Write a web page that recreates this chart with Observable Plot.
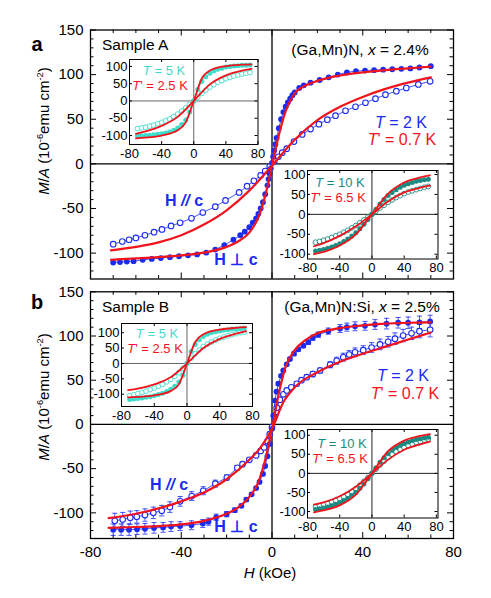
<!DOCTYPE html>
<html><head><meta charset="utf-8">
<script src="https://cdn.jsdelivr.net/npm/d3@7"></script>
<script src="https://cdn.jsdelivr.net/npm/@observablehq/plot@0.6"></script>
<style>
body{margin:0;background:#fff;font-family:"Liberation Sans",Arial,Helvetica,sans-serif;}
#root{position:relative;width:491px;height:598px;overflow:hidden;background:#fff;}
.lbl{position:absolute;white-space:nowrap;line-height:1;}
.lbl sup{font-size:0.62em;vertical-align:0.55em;line-height:0;}
</style></head><body><div id="root"></div>
<script>
// ---------- tick values ----------
const mainXMajor = [-80,-40,0,40,80];
const mainXMinor = [-70,-60,-50,-30,-20,-10,10,20,30,50,60,70];
const mainYMajor = [-100,-50,0,50,100,150];
const mainYMinor = [-120,-110,-90,-80,-70,-60,-40,-30,-20,-10,10,20,30,40,60,70,80,90,110,120,130,140];
const insXTicks = [-80,-40,0,40,80];
const insYTicks = [-100,-50,0,50,100];

// ---------- panel a main data [H (kOe), M/A] ----------
const aPerp = [[-70,-110.5],[-67,-110],[-64,-109.5],[-61,-109],[-57,-107.5],[-53,-106.5],[-49,-105.5],[-45,-104.5],[-41,-103.5],[-37,-102.5],[-33,-101.5],[-29,-99.5],[-25,-96],[-21,-91],[-17,-85],[-14,-80],[-12,-76],[-10,-71],[-8.5,-66],[-7,-61],[-6,-56],[-5,-50],[-4,-43],[-3,-34],[-2,-24],[-1.5,-17],[-1,-11],[-0.5,-5],[0,1],[0.5,8],[1,15],[1.5,22],[2,29],[3,40],[4,50],[5,58],[6,64],[7,69],[8,73],[9,77],[10,80],[12,85],[14,88],[17,91],[21,94],[25,97],[29,100],[33,102.5],[37,104],[41,104.5],[45,105],[49,105.5],[53,106],[57,106.5],[61,107],[65,108],[70,109.5]];
const aPar = [[-70,-90],[-66,-87],[-63,-85],[-60,-83],[-56,-80],[-52,-76.5],[-48.5,-73.5],[-44.5,-69.5],[-40.5,-66],[-35.5,-61],[-30.5,-54.5],[-25,-48],[-20.5,-41],[-14.5,-32],[-11,-25],[-8,-19],[-5,-13],[-3,-8],[-1,-3],[1,3],[2.8,8],[4.5,12.5],[6.5,17],[9.7,25],[13.3,33],[17,39],[20.7,44.5],[24.4,49.5],[28,54],[32.4,59.5],[36.8,64],[41.2,68.5],[45.6,73],[50,77.5],[54.8,81.5],[59.2,85],[64.5,89],[69.7,92.5]];
const aFitPerp = [[-71,-107.5],[-60,-106],[-50,-104.5],[-40,-102.5],[-30,-99.5],[-20,-93],[-15,-87],[-10,-77],[-6,-60],[-3,-36],[0,-2],[3,32],[6,59],[10,79],[15,88],[20,93],[30,99],[40,102.5],[50,105],[60,107],[70,109]];
const aFitPar = [[-71,-97],[-60,-93],[-50,-88],[-40,-80],[-30,-68],[-20,-52],[-10,-30],[0,-2],[10,27],[20,49],[30,64],[40,75],[50,84],[60,91],[70,97]];

// ---------- panel b main data [H, M/A, error] ----------
const bPerp = [[-70,-119,6.5],[-66.5,-119,6.5],[-63,-119,6.5],[-59.5,-118.5,6],[-56,-118,6],[-52,-117,6],[-48,-116.5,5.5],[-44.5,-115.5,5.5],[-40.5,-115,5],[-35.5,-114,5],[-30.5,-112,4.5],[-28,-110,4],[-24.6,-105,3.5],[-20,-101.5,3],[-16.4,-97,2.5],[-13.5,-92,2],[-11.3,-85,2],[-9,-79,1.5],[-7,-72,1.5],[-5.5,-65,1],[-4,-56,1],[-3,-47,1],[-2,-36,1],[-1,-22,1],[0,-5,1],[0.6,10,1],[1.3,27,1],[2,37,1],[2.8,46,1],[4,55,1],[5,61,1],[6.5,68,1.5],[7.9,74,1.5],[9.7,80,2],[11.6,85,2],[13.8,89,2],[16,93,2.5],[18,98,3],[20.4,101.5,3],[24.8,105.5,3.5],[30,108.5,4.5],[33,110,4.5],[36.6,111,5],[41,111.5,5],[45.4,113,5.5],[50.5,114,6],[55.6,115,6],[60,115,6.5],[65,115.5,7],[69.7,116.5,7]];
const bPar = [[-69.3,-109,8.5],[-65.8,-107.5,8],[-62.5,-105.5,7.5],[-59.6,-104.5,7],[-56,-102.5,7],[-52.3,-100,6.5],[-48.6,-97.5,6],[-45,-93.5,6],[-40.5,-87,5.5],[-35.4,-81,5],[-30.3,-75,4.5],[-25,-67,4],[-19.9,-60,3],[-15.3,-49,2.5],[-13,-45,2],[-10,-40,2],[-7,-35,1.5],[-5,-30,1.5],[-3.5,-26,1],[-2,-19,1],[-1,-11,1],[0,-3,1],[1,9,1],[2.1,19,1],[3.5,28,1],[5,34,1],[6.5,38.5,1.5],[8.5,42,1.5],[10.9,46,2],[13,50,2],[15.3,53.5,2.5],[18,57,3],[21.2,61,3],[25.6,67.5,3.5],[28.5,72,4],[31.4,76,4.5],[34,79,4.5],[36.6,81.5,5],[40.2,84,5],[43.9,87,5.5],[47.6,90.5,6],[51.2,93.5,6],[54.2,97,6.5],[57.8,100.5,7],[61.5,103,7],[65,105.5,7.5],[69.7,107,8]];
const bFitPerp = [[-72,-117],[-60,-116],[-50,-115],[-40,-113],[-30,-109],[-20,-101],[-15,-94],[-10,-82],[-6,-65],[-3,-40],[0,-5],[3,35],[6,65],[10,84],[15,96],[20,103],[30,109],[40,112],[50,114],[60,115],[70,115.5]];
const bFitPar = [[-72,-106],[-60,-101],[-50,-95],[-40,-87],[-30,-77],[-20,-62],[-10,-40],[-5,-26],[0,-5],[5,25],[10,42],[20,59],[30,71],[40,80],[50,88],[60,96],[70,104]];

// ---------- insets: field grid and magnetization values ----------
const insH = [-70,-65,-60,-55,-50,-45,-40,-35,-30,-25,-20,-15,-10,-5,0,5,10,15,20,25,30,35,40,45,50,55,60,65,70];
const a1Perp = [-101,-100.5,-100,-99,-98,-96.5,-95,-93,-90,-85,-78,-68,-55,-32,0,33,56,70,80,87,92,95,98,99.5,101,102,103,103.5,104];
const a1Par  = [-80,-78,-76,-73,-70,-66,-62,-57,-52,-45,-38,-29,-20,-10,0,11,22,31,40,47,54,59,64,68,72,75,78,80,82];
const a1FitPerp = [[-72,-108],[-60,-106],[-40,-100],[-20,-85],[-10,-62],[0,0],[10,65],[20,88],[40,101],[60,105],[72,106]];
const a1FitPar  = [[-72,-95],[-60,-88],[-40,-72],[-20,-46],[0,0],[20,48],[40,74],[60,88],[72,93]];

const a2Perp = [-92,-90,-88,-85,-82,-78,-74,-68,-62,-54,-46,-36,-25,-13,0,13,26,37,47,55,62,68,73,77,80,83,85,87,88];
const a2Par  = [-70,-68,-65,-62,-58,-54,-50,-45,-40,-34,-28,-21,-14,-7,0,8,16,23,30,36,42,47,52,56,59,62,65,68,70];
const a2FitPerp = [[-72,-100],[-60,-94],[-40,-78],[-20,-50],[0,0],[20,52],[40,80],[60,93],[72,98]];
const a2FitPar  = [[-72,-80],[-60,-72],[-40,-54],[-20,-30],[0,0],[20,32],[40,55],[60,67],[72,72]];

const b1Perp = [-117,-116,-114,-112,-110,-108,-105,-101,-97,-91,-84,-74,-60,-38,0,39,62,77,88,95,100,103,106,108,110,112,113,114,115];
const b1Par  = [-105,-102,-98,-94,-90,-85,-80,-74,-68,-60,-52,-42,-30,-16,0,17,32,44,55,63,70,76,82,86,90,94,97,100,102];
const b1FitPerp = [[-72,-110],[-60,-109],[-40,-104],[-20,-90],[-10,-68],[0,0],[10,70],[20,95],[40,110],[60,116],[72,118]];
const b1FitPar  = [[-72,-87],[-60,-82],[-40,-68],[-20,-45],[0,0],[20,50],[40,80],[60,97],[72,105]];

const b2Perp = [-95,-93,-91,-88,-85,-81,-77,-72,-66,-58,-50,-39,-28,-14,0,15,29,41,52,61,68,74,78,82,86,89,91,93,95];
const b2Par  = [-88,-85,-82,-79,-75,-71,-66,-61,-55,-48,-40,-31,-21,-11,0,11,22,32,42,50,57,63,68,73,77,81,84,87,90];
const b2FitPerp = [[-72,-102],[-60,-97],[-40,-84],[-20,-56],[0,0],[20,58],[40,86],[60,98],[72,103]];
const b2FitPar  = [[-72,-82],[-60,-76],[-40,-60],[-20,-35],[0,0],[20,36],[40,62],[60,76],[72,83]];

// ---------- styling ----------
const BLUE = "#1b2cf2", RED = "#f2141c", CYAN = "#3fdccb", TEAL = "#1b8a80";
const FONT = "'Liberation Sans', Arial, Helvetica, sans-serif";
const root = document.getElementById("root");
const fmt = d => String(d);
const pts = arr => arr.map(([H, M, e]) => ({H, M, e}));
const grid = vals => vals.map((M, i) => ({H: insH[i], M}));
const capSymbol = {draw(ctx) { ctx.moveTo(-2.6, 0); ctx.lineTo(2.6, 0); }};

function place(el, left, top) {
  el.style.position = "absolute";
  el.style.left = left + "px";
  el.style.top = top + "px";
  root.appendChild(el);
}

function mainPanel(o) {
  const W = 491, ml = 90, mr = 38;
  const iw = W - ml - mr, ih = o.height - o.mt - o.mb;
  const perp = pts(o.perp), par = pts(o.par);
  const marks = [
    Plot.ruleY([0], {stroke: "#000", strokeWidth: 1.3}),
    Plot.ruleX([0], {stroke: "#000", strokeWidth: 1.3}),
    Plot.tickX(mainXMajor, {x: d => d, insetTop: ih - 6, stroke: "#000"}),
    Plot.tickX(mainXMajor, {x: d => d, insetBottom: ih - 6, stroke: "#000"}),
    Plot.tickX(mainXMinor, {x: d => d, insetTop: ih - 3.5, stroke: "#000"}),
    Plot.tickX(mainXMinor, {x: d => d, insetBottom: ih - 3.5, stroke: "#000"}),
    Plot.tickY(mainYMajor, {y: d => d, insetRight: iw - 6, stroke: "#000"}),
    Plot.tickY(mainYMajor, {y: d => d, insetLeft: iw - 6, stroke: "#000"}),
    Plot.tickY(mainYMinor, {y: d => d, insetRight: iw - 3.5, stroke: "#000"}),
    Plot.tickY(mainYMinor, {y: d => d, insetLeft: iw - 3.5, stroke: "#000"})
  ];
  if (o.errors) {
    for (const s of [par, perp]) {
      marks.push(
        Plot.ruleX(s, {x: "H", y1: d => d.M - d.e, y2: d => d.M + d.e, stroke: BLUE, strokeWidth: 0.8}),
        Plot.dot(s, {x: "H", y: d => d.M + d.e, symbol: capSymbol, stroke: BLUE, fill: "none", strokeWidth: 0.8}),
        Plot.dot(s, {x: "H", y: d => d.M - d.e, symbol: capSymbol, stroke: BLUE, fill: "none", strokeWidth: 0.8})
      );
    }
  }
  marks.push(
    Plot.line(par, {x: "H", y: "M", stroke: BLUE, strokeWidth: 0.8}),
    Plot.line(perp, {x: "H", y: "M", stroke: BLUE, strokeWidth: 0.8}),
    Plot.dot(par, {x: "H", y: "M", r: 2.8, stroke: BLUE, fill: "white", strokeWidth: 1.1}),
    Plot.dot(perp, {x: "H", y: "M", r: 2.9, fill: BLUE, stroke: "none"}),
    Plot.line(pts(o.fitPar), {x: "H", y: "M", stroke: RED, strokeWidth: 2.2, curve: "monotone-x"}),
    Plot.line(pts(o.fitPerp), {x: "H", y: "M", stroke: RED, strokeWidth: 2.2, curve: "monotone-x"}),
    Plot.frame({stroke: "#000", strokeWidth: 1.3})
  );
  const svg = Plot.plot({
    width: W, height: o.height,
    marginLeft: ml, marginRight: mr, marginTop: o.mt, marginBottom: o.mb,
    x: o.showX
      ? {domain: [-80, 80], ticks: mainXMajor, tickSize: 0, tickPadding: 8, tickFormat: fmt, label: null}
      : {domain: [-80, 80], axis: null},
    y: {domain: [-129, 150], ticks: mainYMajor, tickSize: 0, tickPadding: 7, tickFormat: fmt, label: null},
    style: {fontSize: "15px", fontFamily: FONT, background: "none", overflow: "visible", color: "#000"},
    marks
  });
  place(svg, 0, o.top);
}

function insetPanel(o) {
  const ml = 40, mr = 8, mt = 8, mb = 22;
  const fw = o.right - o.left, fh = o.bottom - o.top;
  const filled = grid(o.perp), open = grid(o.par);
  const svg = Plot.plot({
    width: fw + ml + mr, height: fh + mt + mb,
    marginLeft: ml, marginRight: mr, marginTop: mt, marginBottom: mb,
    x: {domain: o.xd, ticks: insXTicks, tickSize: 0, tickPadding: 4, tickFormat: fmt, label: null},
    y: {domain: o.yd, ticks: insYTicks, tickSize: 0, tickPadding: 2, tickFormat: fmt, label: null},
    style: {fontSize: "13px", fontFamily: FONT, background: "none", overflow: "visible", color: "#000"},
    marks: [
      Plot.frame({fill: "white", stroke: "none"}),
      Plot.ruleY([0], {stroke: o.zero, strokeWidth: 1}),
      Plot.ruleX([0], {stroke: o.zero, strokeWidth: 1}),
      Plot.tickY(insYTicks, {y: d => d, insetRight: fw - 3, stroke: "#000"}),
      Plot.tickY(insYTicks, {y: d => d, insetLeft: fw - 3, stroke: "#000"}),
      Plot.tickX(insXTicks, {x: d => d, insetTop: fh - 3, stroke: "#000"}),
      Plot.tickX(insXTicks, {x: d => d, insetBottom: fh - 3, stroke: "#000"}),
      Plot.line(open, {x: "H", y: "M", stroke: o.color, strokeWidth: 0.8}),
      Plot.line(filled, {x: "H", y: "M", stroke: o.color, strokeWidth: 0.8}),
      Plot.dot(open, {x: "H", y: "M", r: 2.4, stroke: o.color, fill: "white", strokeWidth: 0.9}),
      Plot.dot(filled, {x: "H", y: "M", r: 2.5, fill: o.color, stroke: "none"}),
      Plot.line(pts(o.fitPar), {x: "H", y: "M", stroke: RED, strokeWidth: 1.8, curve: "monotone-x"}),
      Plot.line(pts(o.fitPerp), {x: "H", y: "M", stroke: RED, strokeWidth: 1.8, curve: "monotone-x"}),
      Plot.frame({stroke: "#000", strokeWidth: 1})
    ]
  });
  place(svg, o.left - ml, o.top - mt);
}

function label(html, x, y, opt = {}) {
  const d = document.createElement("div");
  d.className = "lbl";
  d.innerHTML = html;
  d.style.fontSize = (opt.size || 15) + "px";
  d.style.color = opt.color || "#000";
  if (opt.weight) d.style.fontWeight = opt.weight;
  const ax = opt.anchor === "start" ? "0" : opt.anchor === "end" ? "-100%" : "-50%";
  d.style.transform = `translate(${ax},-50%)` + (opt.rotate ? ` rotate(${opt.rotate}deg)` : "");
  place(d, x, y);
}

// ---------- draw ----------
mainPanel({top: 0, height: 284, mt: 29.5, mb: 5.5, showX: false,
  perp: aPerp, par: aPar, fitPerp: aFitPerp, fitPar: aFitPar, errors: false});
mainPanel({top: 284, height: 314, mt: 7.3, mb: 60, showX: true,
  perp: bPerp, par: bPar, fitPerp: bFitPerp, fitPar: bFitPar, errors: true});

insetPanel({left: 128.5, right: 257, top: 59, bottom: 144, xd: [-80, 80], yd: [-126, 120],
  perp: a1Perp, par: a1Par, fitPerp: a1FitPerp, fitPar: a1FitPar, color: CYAN, zero: "#666"});
insetPanel({left: 306.5, right: 437, top: 169.5, bottom: 258, xd: [-80, 82], yd: [-112, 110],
  perp: a2Perp, par: a2Par, fitPerp: a2FitPerp, fitPar: a2FitPar, color: TEAL, zero: "#222"});
insetPanel({left: 121, right: 252, top: 323, bottom: 406, xd: [-80, 80], yd: [-140, 130],
  perp: b1Perp, par: b1Par, fitPerp: b1FitPerp, fitPar: b1FitPar, color: CYAN, zero: "#666"});
insetPanel({left: 306.5, right: 437, top: 428.5, bottom: 517, xd: [-80, 82], yd: [-117, 115],
  perp: b2Perp, par: b2Par, fitPerp: b2FitPerp, fitPar: b2FitPar, color: TEAL, zero: "#222"});

// panel letters
label("a", 37, 44, {size: 20, weight: "bold"});
label("b", 37, 302, {size: 20, weight: "bold"});
// y-axis titles
const yTitle = "<i>M</i>/<i>A</i> (10<sup>-6</sup>emu cm<sup>-2</sup>)";
label(yTitle, 43, 131, {size: 15, rotate: -90});
label(yTitle, 43, 397, {size: 15, rotate: -90});
// x-axis title
label("<i>H</i> (kOe)", 270, 572, {size: 15});
// panel a texts
label("Sample A", 102, 45, {size: 15.5, anchor: "start"});
label("(Ga,Mn)N, <i>x</i> = 2.4%", 360, 50, {size: 15.5});
label("<i>T</i> = 2 K", 401, 123, {size: 16, color: BLUE});
label("<i>T</i>' = 0.7 K", 402, 140, {size: 16, color: RED});
label("H <i>//</i> c", 184, 201, {size: 16, color: BLUE, weight: "bold"});
label("H ⊥ c", 236, 260, {size: 16, color: BLUE, weight: "bold"});
// panel b texts
label("Sample B", 102, 307, {size: 15.5, anchor: "start"});
label("(Ga,Mn)N:Si, <i>x</i> = 2.5%", 362, 307, {size: 15.5});
label("<i>T</i> = 2 K", 403, 376, {size: 16, color: BLUE});
label("<i>T</i>' = 0.7 K", 405, 394, {size: 16, color: RED});
label("H <i>//</i> c", 169, 485, {size: 16, color: BLUE, weight: "bold"});
label("H ⊥ c", 236, 527, {size: 16, color: BLUE, weight: "bold"});
// inset texts
label("<i>T</i> = 5 K", 164, 70, {size: 13, color: CYAN});
label("<i>T</i>' = 2.5 K", 160, 84.5, {size: 13, color: RED});
label("<i>T</i> = 10 K", 340, 182, {size: 13, color: TEAL});
label("<i>T</i>' = 6.5 K", 338, 196.5, {size: 13, color: RED});
label("<i>T</i> = 5 K", 157, 333, {size: 13, color: CYAN});
label("<i>T</i>' = 2.5 K", 155, 348, {size: 13, color: RED});
label("<i>T</i> = 10 K", 342, 442.5, {size: 13, color: TEAL});
label("<i>T</i>' = 6.5 K", 340, 457.5, {size: 13, color: RED});
</script></body></html>
